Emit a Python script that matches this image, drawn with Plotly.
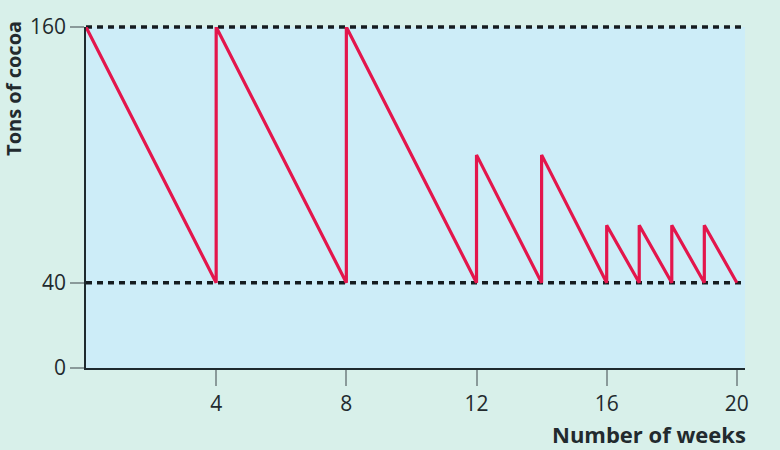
import plotly.graph_objects as go

# Data
weeks = [0, 4, 4, 8, 8, 12, 12, 14, 14, 16, 16, 17, 17, 18, 18, 19, 19, 20]
tons = [160, 40, 160, 40, 160, 40, 100, 40, 100, 40, 67, 40, 67, 40, 67, 40, 67, 40]
x_ticks = [4, 8, 12, 16, 20]
y_ticks = [0, 40, 160]
ref_levels = [40, 160]

Y_RANGE = [0, 160]
FONT = "Open Sans"
TXT = "#222a2e"

fig = go.Figure()
fig.add_trace(go.Scatter(
    x=weeks, y=tons, mode="lines",
    line=dict(color="#e3164c", width=3.2),
    hoverinfo="skip", showlegend=False,
))

for lvl in ref_levels:
    yp = (lvl - Y_RANGE[0]) / (Y_RANGE[1] - Y_RANGE[0])
    fig.add_shape(type="line", xref="paper", yref="paper", x0=0, x1=1, y0=yp, y1=yp,
                  line=dict(color="#151c20", width=3.5, dash="6px,5px"), layer="below")

fig.update_layout(
    width=780, height=450,
    margin=dict(l=86, r=35, t=24, b=82),
    paper_bgcolor="#d8f0ea",
    plot_bgcolor="#cdedf8",
    font=dict(family=FONT, size=22, color=TXT),
    xaxis=dict(
        range=[0, 20.25], tickvals=x_ticks, showgrid=False, zeroline=False,
        showline=True, linecolor="#1e2a2e", linewidth=1.5,
        ticks="outside", ticklen=16, tickcolor="#8a9a9a", tickwidth=1.5,
        tickfont=dict(family=FONT, size=21, color=TXT),
    ),
    yaxis=dict(
        range=Y_RANGE, tickvals=y_ticks, showgrid=False, zeroline=False,
        showline=True, linecolor="#1e2a2e", linewidth=1.5,
        ticks="outside", ticklen=14, tickcolor="#8a9a9a", tickwidth=1.5,
        tickfont=dict(family=FONT, size=21, color=TXT),
    ),
    annotations=[
        dict(text="<b>Number of weeks</b>", xref="paper", yref="paper",
             x=1.005, y=-0.195, xanchor="right", yanchor="middle", showarrow=False,
             font=dict(family=FONT, size=22, color=TXT)),
        dict(text="<b>Tons of cocoa</b>", xref="paper", yref="paper",
             x=-0.11, y=0.82, xanchor="center", yanchor="middle", showarrow=False,
             textangle=-90, font=dict(family=FONT, size=20, color=TXT)),
    ],
)

fig.write_html("out.html", config={"displayModeBar": False},
               post_script="document.body.style.margin='0';document.body.style.background='#d8f0ea';")
